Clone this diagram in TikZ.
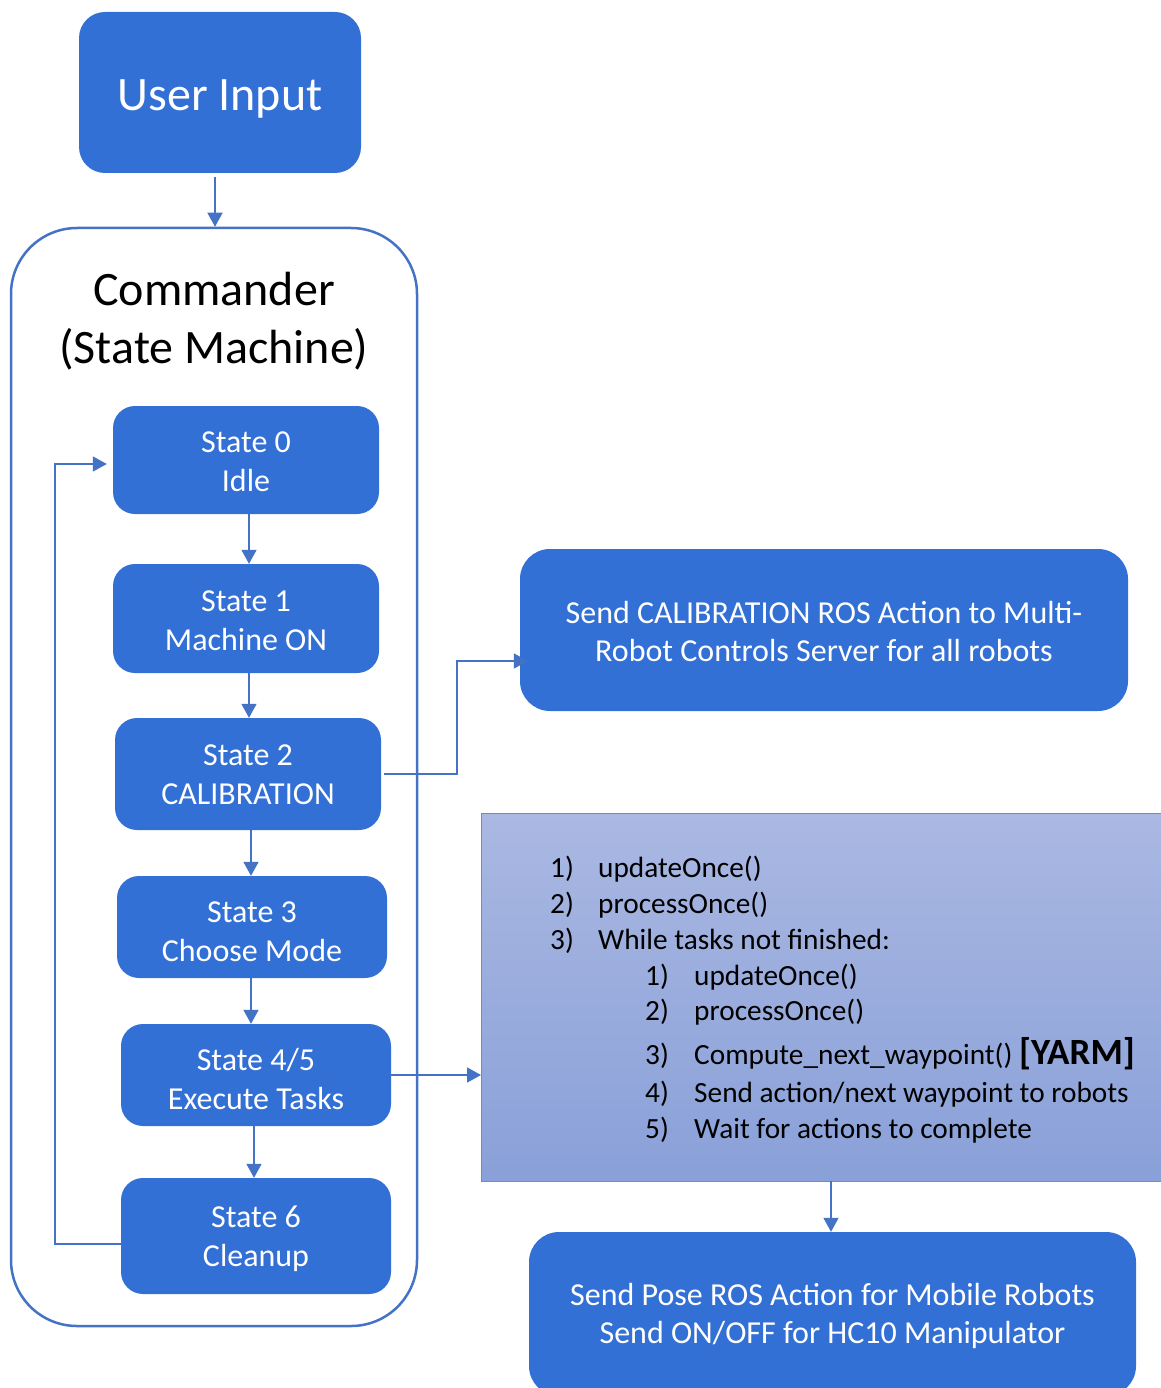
\documentclass[tikz,border=0pt]{standalone}
\usepackage{fontspec}
\setmainfont{Carlito}
\usetikzlibrary{arrows.meta,calc}

\definecolor{boxblue}{RGB}{50,112,214}
\definecolor{linkblue}{RGB}{68,114,196}
\definecolor{gradtop}{RGB}{170,184,226}
\definecolor{gradbot}{RGB}{137,160,216}

% invisible strut that lowers a label inside its box
\newcommand{\lowr}[1]{\rule{0pt}{#1pt}}

\tikzset{
  bluebox/.style={draw=none, fill=boxblue, rounded corners=22pt, text=white,
    align=center, inner sep=0pt},
  statebox/.style={bluebox, font=\fontsize{32}{39}\selectfont},
  wide/.style={bluebox, rounded corners=30pt, font=\fontsize{32}{38}\selectfont},
  link/.style={draw=linkblue, line width=1.6pt,
    -{Triangle[length=14pt,width=15pt]}},
  item/.style={anchor=base west, inner sep=0pt, font=\fontsize{29.3}{34}\selectfont}
}

\begin{document}
\begin{tikzpicture}[x=1pt,y=-1pt]
\useasboundingbox (0,0) rectangle (1160,1388);
\fill[white] (0,0) rectangle (1160,1388);

% input and state machine container
\node[bluebox, minimum width=282pt, minimum height=161pt, rounded corners=26pt,
  font=\fontsize{48}{57}\selectfont] (user) at (220,92.5) {\lowr{43}User Input};
\node[draw=linkblue, line width=2.5pt, rounded corners=66pt,
  minimum width=406pt, minimum height=1098pt] (cmd) at (214,777) {};
\node[align=center, inner sep=0pt, font=\fontsize{48}{58}\selectfont]
  (cmdtitle) at (214,321) {Commander\\(State Machine)};

% states
\node[statebox, minimum width=266pt, minimum height=108pt] (s0) at (246,460) {\lowr{25}State 0\\Idle};
\node[statebox, minimum width=266pt, minimum height=109pt] (s1) at (246,618.5) {\lowr{25}State 1\\Machine ON};
\node[statebox, minimum width=266pt, minimum height=112pt] (s2) at (248,774) {\lowr{23}State 2\\CALIBRATION};
\node[statebox, minimum width=270pt, minimum height=102pt] (s3) at (252,927) {\lowr{31}State 3\\Choose Mode};
\node[statebox, minimum width=270pt, minimum height=102pt] (s45) at (256,1075) {\lowr{31}State 4/5\\Execute Tasks};
\node[statebox, minimum width=270pt, minimum height=116pt] (s6) at (256,1236) {\lowr{28}State 6\\Cleanup};

% external actions
\node[wide, minimum width=608pt, minimum height=162pt] (calib) at (824,630)
  {\lowr{26}Send CALIBRATION ROS Action to Multi-\\Robot Controls Server for all robots};
\node[draw=linkblue!80, line width=1.2pt, top color=gradtop, bottom color=gradbot,
  minimum width=700pt, minimum height=368pt, anchor=north west, inner sep=0pt]
  (tasks) at (481,813) {};
\node[wide, minimum width=607pt, minimum height=164pt] (poses) at (832.5,1314)
  {\lowr{26}Send Pose ROS Action for Mobile Robots\\Send ON/OFF for HC10 Manipulator};

% task loop listing
\node[item] (n1) at (550,877) {1)};
\node[item] (t1) at (598,877) {updateOnce()};
\node[item] (n2) at (550,913) {2)};
\node[item] (t2) at (598,913) {processOnce()};
\node[item] (n3) at (550,949) {3)};
\node[item] (t3) at (598,949) {While tasks not finished:};
\node[item] (m1) at (645,985) {1)};
\node[item] (u1) at (694,985) {updateOnce()};
\node[item] (m2) at (645,1020) {2)};
\node[item] (u2) at (694,1020) {processOnce()};
\node[item] (m3) at (645,1064) {3)};
\node[item] (u3) at (694,1064) {Compute\_next\_waypoint() {\fontsize{37}{40}\selectfont\bfseries [YARM]}};
\node[item] (m4) at (645,1102) {4)};
\node[item] (u4) at (694,1102) {Send action/next waypoint to robots};
\node[item] (m5) at (645,1138) {5)};
\node[item] (u5) at (694,1138) {Wait for actions to complete};

% connector end points
\coordinate (a0) at ([xshift=3pt]s0.south);
\coordinate (a1) at ([xshift=3pt]s1.south);
\coordinate (a2) at ([xshift=3pt]s2.south);
\coordinate (a3) at ([xshift=-1pt]s3.south);
\coordinate (a4) at ([xshift=-2pt]s45.south);
\coordinate (ua) at ([yshift=-4pt]user.south -| 215,0);
\coordinate (pa) at (831,1181);

% connectors
\draw[link] (ua) -- (ua |- cmd.north);
\draw[link] (a0) -- (a0 |- s1.north);
\draw[link] (a1) -- (a1 |- s2.north);
\draw[link] (a2) -- (a2 |- s3.north);
\draw[link] (a3) -- (a3 |- s45.north);
\draw[link] (a4) -- (a4 |- s6.north);
\draw[link, shorten >=6pt] ([yshift=-8pt]s6.west) -- ++(-66,0) |- ([yshift=-4pt]s0.west);
\draw[link, shorten >=-8pt] ([xshift=3pt]s2.east) -- ++(73,0) |- ([yshift=-31pt]calib.west);
\draw[link] ([xshift=-1pt]s45.east) -- (tasks.west |- s45.east);
\draw[link] (pa) -- (pa |- poses.north);
\end{tikzpicture}
\end{document}
